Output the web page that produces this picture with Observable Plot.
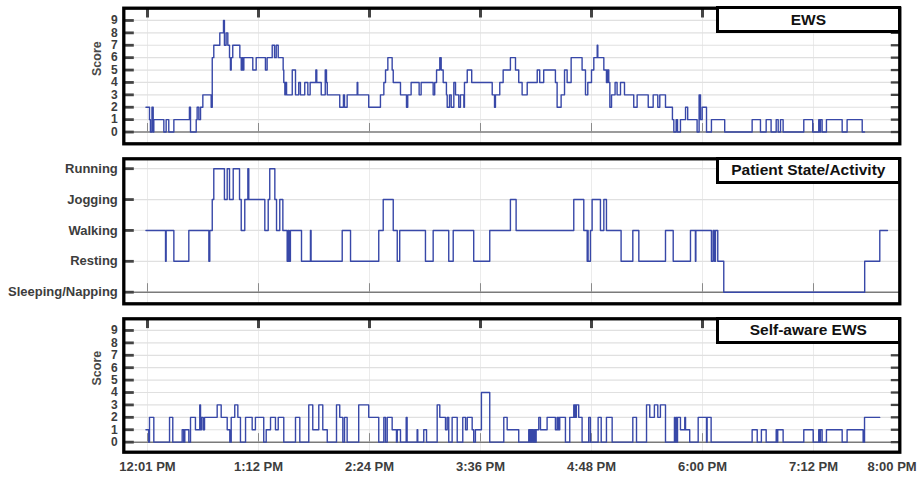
<!DOCTYPE html>
<html><head><meta charset="utf-8">
<script src="https://cdn.jsdelivr.net/npm/d3@7"></script>
<script src="https://cdn.jsdelivr.net/npm/@observablehq/plot@0.6"></script>
<style>
body{margin:0;background:#fff;}
#chart{position:relative;width:922px;height:478px;font-family:"Liberation Sans",Arial,sans-serif;background:#fff;}
#chart svg{position:absolute;left:0;}
.box{position:absolute;box-sizing:border-box;border:3px solid #000;background:#fff;font-weight:bold;font-size:15.5px;color:#111;display:flex;align-items:center;justify-content:center;}
</style></head><body><div id="chart"></div>
<script>
// ---- data (minutes after 12:00 PM) ----
const ewsTime = [-1,1.3,1.9,2.9,3.7,4.1,10.6,12.1,13.8,17.1,27.2,27.9,31.6,32.2,33.3,34.4,35.9,41.3,42.0,43.0,46.9,49.3,49.9,51.0,52.1,53.2,53.8,54.3,55.3,59.9,60.8,61.4,61.8,62.5,68.3,70.5,76.5,77.6,80.9,82.4,83.5,84.8,88.0,88.4,89.1,89.5,90.2,93.9,96.0,98.1,99.2,102.0,104.0,105.5,109.2,109.8,112.7,115.3,116.1,116.6,124.7,127.1,127.8,129.5,136.0,136.4,143.5,151.1,153.3,154.4,155.9,158.7,159.4,164.1,168.0,168.8,171.0,176.2,177.5,185.3,186.3,187.5,189.6,190.5,191.8,193.9,194.4,195.9,197.0,198.7,199.8,201.9,203.0,205.2,205.6,207.4,210.3,223.6,225.1,225.7,228.5,230.7,235.4,238.7,240.8,243.0,246.3,252.8,254.4,257.0,264.6,265.7,268.3,270.5,272.2,274.8,281.9,284.1,285.6,288.0,289.5,291.7,292.1,296.0,297.7,298.4,299.2,299.9,301.0,303.3,304.6,306.8,309.4,315.4,317.6,324.8,328.0,331.0,332.3,336.0,340.5,341.4,342.9,343.8,345.7,349.0,350.4,356.5,357.8,358.7,359.8,362.6,365.8,374.4,392.2,397.6,401.3,404.5,407.8,409.1,410.6,412.3,425.7,431.5,435.4,436.1,436.5,437.6,440.4,450.6,453.8,463.6,465.1,477.2,480];
const ewsScore = [2,1,0,2,0,1,0,1,0,1,2,0,1,2,1,2,3,2,6,7,8,9,7,8,7,6,5,6,7,6,5,6,5,6,5,6,5,6,7,6,7,6,5,4,3,4,3,5,3,4,3,4,3,4,5,4,3,5,4,3,2,3,2,3,4,3,2,3,4,5,6,5,4,3,2,3,4,3,4,3,4,5,6,5,4,3,2,3,2,4,3,2,3,2,4,5,4,3,2,3,4,5,6,5,4,3,4,5,4,5,4,2,3,5,4,6,5,3,4,5,6,7,6,5,4,5,4,2,3,4,3,4,3,2,3,2,3,2,3,2,1,0,1,0,1,2,1,0,3,1,2,0,1,0,1,0,1,0,1,0,1,0,1,0,1,0,1,0,1,0,1,0,0];

const activityTime = [-1,11.7,12.1,17.1,26.8,39.8,40.4,42.0,43.0,49.9,51.7,53.2,55.6,59.7,60.8,63.1,65.1,65.7,76.1,78.3,79.3,82.6,83.7,85.8,87.8,90.6,91.3,91.9,92.7,99.9,105.7,106.1,126.3,131.7,150.0,152.9,159.4,162.0,163.6,180.3,185.3,195.4,198.3,211.6,222.0,235.4,239.1,276.5,283.0,285.2,285.6,285.8,287.3,288.4,293.8,296.0,297.7,307.2,314.8,318.7,336.0,341.0,352.2,355.4,355.7,365.8,366.9,367.8,368.4,369.9,373.8,465.2,475.0,480];
const activityLevel = [2,1,2,1,2,1,2,3,4,3,4,3,4,3,2,3,4,3,2,3,4,3,2,3,2,1,2,1,2,1,2,1,2,1,2,3,2,1,2,1,2,1,2,1,2,3,2,3,2,1,2,1,2,3,2,3,2,1,2,1,2,1,2,1,2,1,2,1,2,1,0,1,2,2];
const activityLabels = ["Sleeping/Napping","Resting","Walking","Jogging","Running"];

const selfTime = [-1,0.8,1.3,4.1,14.3,16.4,22.5,23.5,24.2,26.8,27.9,31.1,33.9,34.4,35.0,36.1,37.0,45.2,47.8,51.7,53.4,54.3,56.6,58.6,60.3,63.6,67.9,70.0,75.4,77.0,79.8,83.0,84.8,88.4,96.0,98.8,104.6,107.2,111.1,113.7,116.6,122.6,124.7,126.7,127.8,129.5,137.0,143.5,150.0,153.3,154.4,155.5,158.7,161.5,162.0,164.1,167.8,168.4,174.9,175.3,179.2,181.0,187.9,189.6,193.3,194.4,195.4,197.6,200.9,204.5,206.3,207.4,210.6,211.6,212.7,216.6,222.0,231.1,233.3,240.8,247.3,248.0,248.4,249.1,249.5,250.4,251.0,251.7,252.1,253.8,254.9,259.2,264.6,265.7,266.1,266.6,267.0,267.4,271.1,273.9,276.5,277.0,277.4,277.8,278.2,279.7,281.9,286.2,287.3,292.3,294.3,297.7,301.4,314.8,317.2,323.7,325.8,328.8,331.0,332.7,336.0,341.8,342.3,342.9,343.3,343.8,345.7,348.5,349.0,351.7,357.2,362.6,363.0,365.6,392.2,395.5,398.2,401.3,407.8,408.4,408.8,412.3,425.7,431.8,435.4,436.1,436.5,437.6,440.4,450.6,453.8,464.2,465.1,475.0,477.6,480];
const selfScore = [1,0,2,0,2,0,1,0,1,0,2,1,3,1,2,1,2,3,2,1,0,2,3,2,0,2,1,2,0,1,2,1,2,0,2,0,3,1,3,1,0,3,2,0,2,0,3,2,0,2,0,2,1,0,1,0,2,0,1,0,1,0,3,2,1,2,0,2,0,2,1,2,1,0,1,4,0,2,1,0,1,0,1,0,1,0,1,0,1,2,1,2,1,2,1,2,1,2,0,2,3,2,3,2,3,2,0,2,0,2,0,2,0,2,0,3,2,3,2,3,0,2,0,2,0,2,1,2,1,0,2,0,2,0,1,0,1,0,1,0,1,0,1,0,1,0,1,0,1,0,1,0,2,2];

const scoreTicks = [0,1,2,3,4,5,6,7,8,9];
const activityTicks = [0,1,2,3,4];
const gridMinutes = [0,72,144,216,288,360,432];
const xTickMinutes = [0,72,144,216,288,360,432,483];
const xTickLabels = ["12:01 PM","1:12 PM","2:24 PM","3:36 PM","4:48 PM","6:00 PM","7:12 PM","8:00 PM"];
const panelTitles = ["EWS","Patient State/Activity","Self-aware EWS"];
const yTitle = "Score";

// ---- layout ----
const WIDTH = 922, ML = 123.3, MR = 22.7, FW = WIDTH - ML - MR;
const X_DOMAIN = [-15.37, 487.98];
const LINE = "#3848a8";
const FONT = "'Liberation Sans', Arial, sans-serif";

function rows(t, v) { return t.map((d, i) => ({t: d, v: v[i]})); }

function panel(cfg) {
  const H = cfg.height - cfg.mt - cfg.mb;
  const base = (0 - cfg.yDomain[0]) / (cfg.yDomain[1] - cfg.yDomain[0]) * H;
  const marks = [
    Plot.ruleX(gridMinutes, {stroke: "#ebebeb", strokeWidth: 1}),
    Plot.ruleY(cfg.yTicks.filter(d => d > 0), {stroke: "#e0e0e0", strokeWidth: 1.2}),
    Plot.ruleY([0], {stroke: "#7a7a7a", strokeWidth: 1.5}),
    Plot.ruleX(gridMinutes, {insetTop: H - base - 8.5, insetBottom: base, stroke: "#8a8a8a", strokeWidth: 1}),
    Plot.ruleY(cfg.yTicks, {insetRight: FW - 10.5, stroke: "#444", strokeWidth: 2.8})
  ];
  if (cfg.rightTicks) marks.push(Plot.ruleY(cfg.yTicks, {insetLeft: FW - 8.5, stroke: "#444", strokeWidth: 2.3}));
  if (cfg.topTicks) marks.push(Plot.ruleX(gridMinutes, {insetBottom: H - 9.8, stroke: "#444", strokeWidth: 3}));
  marks.push(Plot.line(cfg.data, {x: "t", y: "v", curve: "step-after", stroke: LINE, strokeWidth: 1.4}));
  marks.push(Plot.frame({stroke: "#000", strokeWidth: 3.3}));
  marks.push(Plot.axisY({ticks: cfg.yTicks, tickFormat: cfg.yFormat, tickSize: 0, tickPadding: 6,
    fontSize: cfg.yFont, fontWeight: "bold", color: "#3d3d3d", label: null}));
  if (cfg.score) marks.push(Plot.text([yTitle], {text: d => d, frameAnchor: "left", dx: -26.6, rotate: -90,
    fontSize: 12.5, fontWeight: "bold", fill: "#4a4a4a"}));
  if (cfg.xAxis) marks.push(Plot.axisX({ticks: xTickMinutes, tickFormat: d => xTickLabels[xTickMinutes.indexOf(d)],
    tickSize: 0, tickPadding: 10, fontSize: 13, fontWeight: "bold", color: "#3d3d3d", label: null}));
  const svg = Plot.plot({
    width: WIDTH, height: cfg.height,
    marginLeft: ML, marginRight: MR, marginTop: cfg.mt, marginBottom: cfg.mb,
    x: {domain: X_DOMAIN, axis: null},
    y: {domain: cfg.yDomain, axis: null},
    style: {fontFamily: FONT, background: "transparent", overflow: "visible"},
    marks
  });
  svg.style.top = cfg.top + "px";
  return svg;
}

const chart = document.getElementById("chart");
const cfgs = [
  {top: 0, height: 150, mt: 7.7, mb: 6.7, yDomain: [-0.95, 9.99], yTicks: scoreTicks, yFormat: d => String(d), yFont: 12,
   rightTicks: true, topTicks: true, score: true, data: rows(ewsTime, ewsScore)},
  {top: 150, height: 160, mt: 8.3, mb: 6.7, yDomain: [-0.376, 4.32], yTicks: activityTicks, yFormat: d => activityLabels[d], yFont: 13,
   rightTicks: false, topTicks: false, score: false, data: rows(activityTime, activityLevel)},
  {top: 310, height: 168, mt: 8.3, mb: 26.3, yDomain: [-0.81, 9.94], yTicks: scoreTicks, yFormat: d => String(d), yFont: 12,
   rightTicks: true, topTicks: true, score: true, xAxis: true, data: rows(selfTime, selfScore)}
];
cfgs.forEach(c => chart.appendChild(panel(c)));

const boxTops = [6, 156.65, 316.65];
panelTitles.forEach((t, i) => {
  const b = document.createElement("div");
  b.className = "box";
  b.style.left = "715.7px"; b.style.top = boxTops[i] + "px";
  b.style.width = "185.3px"; b.style.height = "27.3px";
  b.textContent = t;
  chart.appendChild(b);
});
</script></body></html>
